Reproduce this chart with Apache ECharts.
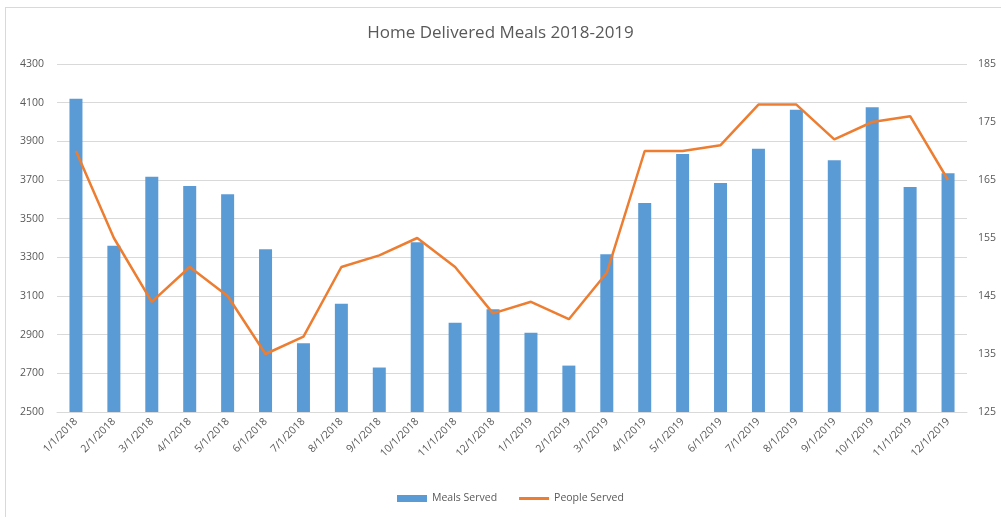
<!DOCTYPE html>
<html>
<head>
<meta charset="utf-8">
<script src="https://cdn.jsdelivr.net/npm/echarts@6/dist/echarts.min.js"></script>
<style>
  html, body { margin: 0; padding: 0; background: #fff; overflow: hidden; }
  #frame { position: absolute; left: 5px; top: 7px; width: 1010px; height: 520px; border: 1px solid #d9d9d9; box-sizing: border-box; }
  #chart { position: absolute; left: 0; top: 0; width: 1001px; height: 517px; }
</style>
</head>
<body>
<div id="frame"></div>
<div id="chart"></div>
<script>
// ======================
// DATA
// ======================

const months = [
    '1/1/2018', '2/1/2018', '3/1/2018', '4/1/2018', '5/1/2018', '6/1/2018',
    '7/1/2018', '8/1/2018', '9/1/2018', '10/1/2018', '11/1/2018', '12/1/2018',
    '1/1/2019', '2/1/2019', '3/1/2019', '4/1/2019', '5/1/2019', '6/1/2019',
    '7/1/2019', '8/1/2019', '9/1/2019', '10/1/2019', '11/1/2019', '12/1/2019'
];

const mealsServed = [
    4120, 3360, 3717, 3669, 3626, 3342, 2855, 3060, 2730, 3378, 2962, 3031,
    2910, 2740, 3316, 3581, 3835, 3685, 3861, 4064, 3802, 4076, 3664, 3735
];

const peopleServed = [
    170, 155, 144, 150, 145, 135, 138, 150, 152, 155, 150, 142,
    144, 141, 149, 170, 170, 171, 178, 178, 172, 175, 176, 165
];

const mealsAxis = { min: 2500, max: 4300, interval: 200 };
const peopleAxis = { min: 125, max: 185, interval: 10 };

// ======================
// CHART
// ======================

const FONT = '"Open Sans", "Liberation Sans", sans-serif';
const TEXT = '#595959';
const GRID = '#d9d9d9';

const chart = echarts.init(document.getElementById('chart'), null, { renderer: 'canvas' });

chart.setOption({
    animation: false,
    title: {
        text: 'Home Delivered Meals 2018-2019',
        left: 'center',
        top: 20,
        textStyle: { fontFamily: FONT, fontSize: 17, fontWeight: 'normal', color: TEXT }
    },
    legend: {
        bottom: 8,
        left: 392,
        itemGap: 22,
        itemWidth: 30,
        itemHeight: 7,
        textStyle: { fontFamily: FONT, fontSize: 10.5, color: TEXT },
        data: [
            { name: 'Meals Served', icon: 'rect' },
            { name: 'People Served', icon: 'path://M0,0 L30,0 L30,3 L0,3 Z' }
        ]
    },
    grid: { left: 57, right: 34, top: 64, bottom: 105, containLabel: false },
    xAxis: {
        type: 'category',
        data: months,
        axisLine: { show: true, lineStyle: { color: GRID } },
        axisTick: { show: false },
        axisLabel: {
            interval: 0,
            rotate: 45,
            margin: 8,
            fontFamily: FONT,
            fontSize: 10.5,
            color: TEXT
        }
    },
    yAxis: [
        {
            type: 'value',
            min: mealsAxis.min,
            max: mealsAxis.max,
            interval: mealsAxis.interval,
            axisLine: { show: false },
            axisTick: { show: false },
            splitLine: { lineStyle: { color: GRID } },
            axisLabel: {
                margin: 13,
                fontFamily: FONT,
                fontSize: 10.5,
                color: TEXT,
                formatter: v => String(v)
            }
        },
        {
            type: 'value',
            min: peopleAxis.min,
            max: peopleAxis.max,
            interval: peopleAxis.interval,
            axisLine: { show: false },
            axisTick: { show: false },
            splitLine: { show: false },
            axisLabel: { margin: 11, fontFamily: FONT, fontSize: 10.5, color: TEXT }
        }
    ],
    series: [
        {
            name: 'Meals Served',
            type: 'bar',
            yAxisIndex: 0,
            barWidth: 13,
            itemStyle: { color: '#5b9bd5' },
            data: mealsServed
        },
        {
            name: 'People Served',
            type: 'line',
            yAxisIndex: 1,
            symbol: 'none',
            lineStyle: { color: '#ed7d31', width: 2.5 },
            itemStyle: { color: '#ed7d31' },
            data: peopleServed
        }
    ]
});
</script>
</body>
</html>
